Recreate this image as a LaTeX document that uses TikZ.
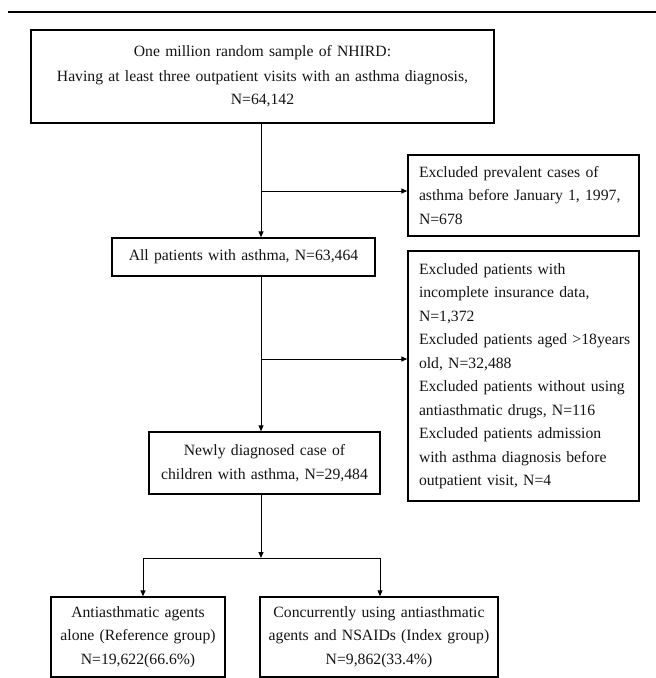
\documentclass[tikz,border=0pt]{standalone}
\usepackage{fontspec}
\setmainfont{Liberation Serif}
\usetikzlibrary{arrows.meta}
\tikzset{
  boxnode/.style={draw=black, line width=1.4pt, inner ysep=0pt, inner xsep=0pt, align=center,
    font=\fontsize{15.7}{23.5}\selectfont, text=black!92},
  leftbox/.style={boxnode, align=left, inner xsep=11pt},
  conn/.style={draw=black, line width=1pt},
  arr/.style={conn, -{Triangle[length=6pt,width=5pt]}},
  rulestyle/.style={draw=black, line width=2.2pt}
}
\begin{document}
\begin{tikzpicture}[x=1pt, y=-1pt]
\useasboundingbox (0,0) rectangle (656,678);
% top rule
\coordinate (ruleL) at (8,12);
\coordinate (ruleR) at (656,12);
\draw[rulestyle] (ruleL) -- (ruleR);
% spine coordinate
\coordinate (spine) at (261,0);
% boxes
\node[boxnode, text width=463pt, minimum height=93pt] (box1) at (262.5,76.5)
  {One million random sample of NHIRD:\\[1pt]Having at least three outpatient visits with an asthma diagnosis,\\N=64,142};
\node[leftbox, text width=209pt, minimum height=81pt] (excl1) at (523.5,195.5)
  {\mbox{Excluded prevalent cases of}\\\mbox{asthma before January 1, 1997,}\\N=678};
\node[boxnode, text width=263pt, minimum height=38pt] (all) at (243.5,257)
  {All patients with asthma, N=63,464};
\node[leftbox, text width=209pt, minimum height=250pt] (excl2) at (523.5,376)
  {\mbox{Excluded patients with}\\\mbox{incomplete insurance data,}\\N=1,372\\\mbox{Excluded patients aged >18years}\\\mbox{old, N=32,488}\\\mbox{Excluded patients without using}\\\mbox{antiasthmatic drugs, N=116}\\\mbox{Excluded patients admission}\\\mbox{with asthma diagnosis before}\\\mbox{outpatient visit, N=4}};
\node[boxnode, text width=231pt, minimum height=62pt] (newly) at (264.5,463)
  {Newly diagnosed case of\\children with asthma, N=29,484};
\node[boxnode, text width=174pt, minimum height=80pt] (grpA) at (138,637)
  {Antiasthmatic agents\\alone (Reference group)\\N=19,622(66.6\%)};
\node[boxnode, text width=238pt, minimum height=80pt] (grpB) at (379,637)
  {Concurrently using antiasthmatic\\agents and NSAIDs (Index group)\\N=9,862(33.4\%)};
% branch coordinates
\coordinate (b1) at (261,191);
\coordinate (b2) at (261,359);
\coordinate (split) at (261,558);
\coordinate (splitL) at (143,558);
\coordinate (splitR) at (380,558);
% connectors
\draw[arr] (box1.south -| spine) -- (all.north -| spine);
\draw[arr] (b1) -- (excl1.west |- b1);
\draw[arr] (all.south -| spine) -- (newly.north -| spine);
\draw[arr] (b2) -- (excl2.west |- b2);
\draw[arr] (newly.south -| spine) -- (split);
\draw[conn] (splitL) -- (splitR);
\draw[arr] (splitL) -- (grpA.north -| splitL);
\draw[arr] (splitR) -- (grpB.north -| splitR);
\end{tikzpicture}
\end{document}
